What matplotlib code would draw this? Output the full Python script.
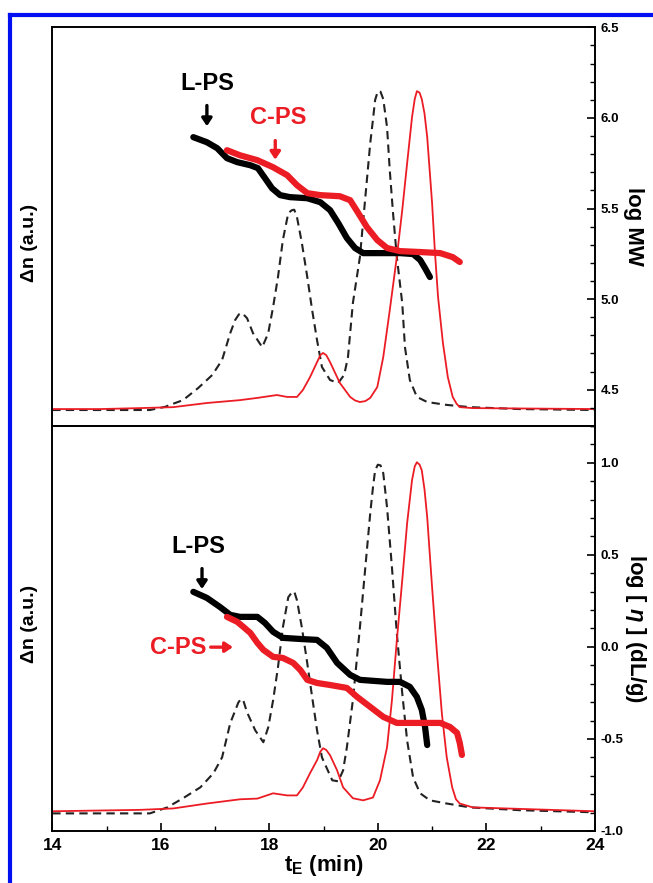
import matplotlib
matplotlib.use('Agg')
import matplotlib.pyplot as plt
from matplotlib.lines import Line2D
from matplotlib.ticker import MultipleLocator, FormatStrFormatter

plt.rcParams['font.family'] = ['Liberation Sans', 'DejaVu Sans']
plt.rcParams['font.weight'] = 'bold'
plt.rcParams['mathtext.fontset'] = 'custom'
plt.rcParams['mathtext.it'] = 'Liberation Sans:italic:bold'
plt.rcParams['mathtext.rm'] = 'Liberation Sans:bold'

# ---- data ----
# top panel: RI traces (delta n, arbitrary units)
t_ri_lps_top = [14.0, 15.8, 16.08, 16.17, 16.41, 16.69, 16.95, 17.13, 17.28, 17.37, 17.44, 17.5, 17.59,
                17.7, 17.87, 17.98, 18.07, 18.16, 18.25, 18.35, 18.42, 18.46, 18.51, 18.6, 18.7, 18.79,
                18.88, 18.97, 19.12, 19.27, 19.38, 19.45, 19.54, 19.67, 19.76, 19.86, 19.91, 19.95,
                20.0, 20.05, 20.1, 20.17, 20.22, 20.28, 20.35, 20.45, 20.5, 20.59, 20.72, 20.91, 21.27,
                21.7, 22.6, 24.0]
dn_lps_top = [0.0, 0.0, 0.01, 0.016, 0.031, 0.069, 0.11, 0.157, 0.241, 0.282, 0.3, 0.304, 0.288,
              0.241, 0.197, 0.241, 0.323, 0.417, 0.533, 0.618, 0.627, 0.628, 0.605, 0.524, 0.417, 0.313,
              0.219, 0.135, 0.094, 0.085, 0.11, 0.166, 0.335, 0.48, 0.649, 0.837, 0.91, 0.972,
              1.0, 0.998, 0.975, 0.887, 0.752, 0.618, 0.48, 0.335, 0.197, 0.094, 0.041, 0.025, 0.016,
              0.009, 0.003, 0.0]

t_ri_cps_top = [14.0, 14.88, 15.62, 16.23, 16.85, 17.46, 17.78, 18.14, 18.33, 18.51, 18.62, 18.75,
                18.88, 18.94, 18.99, 19.05, 19.12, 19.25, 19.3, 19.49, 19.58, 19.67, 19.77, 19.86, 19.99,
                20.1, 20.22, 20.35, 20.45, 20.54, 20.63, 20.68, 20.72, 20.77, 20.81, 20.86, 20.91, 21.0,
                21.05, 21.11, 21.2, 21.29, 21.38, 21.45, 21.51, 21.75, 24.0]
dn_cps_top = [0.003, 0.003, 0.006, 0.009, 0.022, 0.031, 0.038, 0.047, 0.041, 0.041, 0.063, 0.103,
              0.15, 0.172, 0.179, 0.172, 0.15, 0.103, 0.085, 0.041, 0.03, 0.025, 0.028, 0.038, 0.072,
              0.166, 0.313, 0.48, 0.627, 0.774, 0.918, 0.975, 1.0, 0.995, 0.975, 0.93, 0.856, 0.649,
              0.502, 0.354, 0.21, 0.103, 0.041, 0.02, 0.009, 0.006, 0.003]

# top panel: log MW
t_mw_lps = [16.6, 16.85, 17.04, 17.22, 17.41, 17.65, 17.79, 17.92, 18.05, 18.2, 18.38, 18.7, 18.94,
            19.12, 19.27, 19.43, 19.58, 19.73, 20.04, 20.41, 20.65, 20.78, 20.87, 20.96]
mw_lps = [5.894, 5.866, 5.833, 5.778, 5.756, 5.739, 5.723, 5.668, 5.612, 5.574, 5.563, 5.557, 5.535,
          5.491, 5.42, 5.337, 5.282, 5.254, 5.254, 5.254, 5.249, 5.216, 5.171, 5.122]

t_mw_cps = [17.22, 17.46, 17.78, 18.07, 18.33, 18.51, 18.7, 18.94, 19.3, 19.49, 19.64, 19.8, 19.99,
            20.17, 20.41, 20.78, 21.15, 21.38, 21.51]
mw_cps = [5.822, 5.794, 5.767, 5.728, 5.684, 5.629, 5.585, 5.574, 5.568, 5.546, 5.475, 5.397, 5.326,
          5.282, 5.265, 5.26, 5.254, 5.232, 5.205]

# bottom panel: RI traces
t_ri_lps_bot = [14.0, 15.8, 16.12, 16.41, 16.73, 16.97, 17.13, 17.28, 17.43, 17.48, 17.52, 17.59, 17.74,
                17.89, 17.98, 18.07, 18.16, 18.25, 18.35, 18.42, 18.46, 18.51, 18.6, 18.7, 18.79, 18.88,
                18.97, 19.16, 19.27, 19.36, 19.43, 19.54, 19.67, 19.76, 19.86, 19.91, 19.95, 20.0, 20.05,
                20.1, 20.17, 20.26, 20.35, 20.45, 20.54, 20.65, 20.78, 20.96, 21.27, 21.7, 22.62, 24.0]
dn_lps_bot = [0.0, 0.0, 0.017, 0.043, 0.074, 0.114, 0.159, 0.256, 0.315, 0.325, 0.321, 0.287, 0.236,
              0.202, 0.244, 0.321, 0.415, 0.528, 0.614, 0.628, 0.63, 0.605, 0.528, 0.426, 0.33, 0.236,
              0.159, 0.094, 0.091, 0.122, 0.188, 0.321, 0.528, 0.682, 0.852, 0.925, 0.974, 0.99, 0.988,
              0.966, 0.869, 0.699, 0.511, 0.341, 0.207, 0.102, 0.057, 0.037, 0.028, 0.017, 0.009, 0.003]

t_ri_cps_bot = [14.0, 15.62, 16.23, 16.85, 17.46, 17.78, 18.07, 18.33, 18.51, 18.62, 18.75, 18.88,
                18.94, 18.99, 19.05, 19.12, 19.25, 19.36, 19.54, 19.73, 19.91, 20.04, 20.17, 20.26, 20.35,
                20.45, 20.54, 20.63, 20.68, 20.72, 20.77, 20.81, 20.86, 20.91, 21.0, 21.09, 21.18, 21.27,
                21.37, 21.44, 21.51, 21.75, 24.0]
dn_cps_bot = [0.006, 0.01, 0.014, 0.028, 0.04, 0.042, 0.057, 0.051, 0.051, 0.074, 0.114, 0.151,
              0.175, 0.185, 0.18, 0.165, 0.122, 0.074, 0.043, 0.037, 0.045, 0.094, 0.188, 0.321, 0.491,
              0.662, 0.824, 0.946, 0.985, 0.997, 0.99, 0.974, 0.92, 0.841, 0.642, 0.455, 0.284, 0.159,
              0.074, 0.04, 0.028, 0.017, 0.006]

# bottom panel: log [eta]
t_iv_lps = [16.6, 16.85, 17.09, 17.28, 17.46, 17.78, 17.92, 18.07, 18.25, 18.57, 18.88, 19.06, 19.25,
            19.49, 19.67, 20.17, 20.41, 20.59, 20.72, 20.81, 20.87, 20.91]
iv_lps = [0.299, 0.266, 0.217, 0.174, 0.163, 0.163, 0.13, 0.082, 0.049, 0.043, 0.038, -0.005, -0.087,
          -0.152, -0.179, -0.19, -0.19, -0.217, -0.272, -0.342, -0.435, -0.533]

t_iv_cps = [17.22, 17.41, 17.52, 17.65, 17.78, 17.89, 18.07, 18.25, 18.44, 18.57, 18.7, 18.88, 19.12,
            19.43, 19.62, 19.86, 20.1, 20.35, 20.78, 21.15, 21.33, 21.46, 21.51, 21.55]
iv_cps = [0.163, 0.136, 0.109, 0.076, 0.022, -0.016, -0.054, -0.06, -0.087, -0.125, -0.179, -0.196,
          -0.207, -0.223, -0.272, -0.326, -0.38, -0.413, -0.413, -0.413, -0.435, -0.467, -0.522, -0.587]

RED = '#ec1c24'
ARROW = dict(arrowstyle='-|>,head_width=0.3,head_length=0.45', lw=2.4, shrinkA=0, shrinkB=0)

fig = plt.figure(figsize=(6.53, 8.83), dpi=100)

# blue frame of the original graphic
fig.add_artist(Line2D([0.016, 1.0], [0.983, 0.983], color='#0010f0', lw=3, transform=fig.transFigure))
fig.add_artist(Line2D([0.016, 0.016], [0.0, 0.983], color='#0010f0', lw=3, transform=fig.transFigure))

ax1 = fig.add_axes([0.080, 0.5176, 0.831, 0.4514])
ax2 = fig.add_axes([0.080, 0.0589, 0.831, 0.4587])


def style_axes(ax, rax, ylim_r, major):
    ax.set_xlim(14, 24)
    ax.set_yticks([])
    ax.set_ylabel('Δn (a.u.)', fontsize=14, fontweight='bold')
    rax.set_ylim(*ylim_r)
    rax.yaxis.set_major_locator(MultipleLocator(major))
    rax.yaxis.set_minor_locator(MultipleLocator(0.1))
    rax.yaxis.set_major_formatter(FormatStrFormatter('%.1f'))
    rax.tick_params(axis='y', which='major', direction='in', length=6, width=1.2, labelsize=9.5, pad=4)
    rax.tick_params(axis='y', which='minor', direction='in', length=3.5, width=1.0)
    for a in (ax, rax):
        for s in a.spines.values():
            s.set_linewidth(1.2)


# top panel
ax1.plot(t_ri_lps_top, dn_lps_top, color='#222222', lw=1.5, ls=(0, (4, 2.5)))
ax1.plot(t_ri_cps_top, dn_cps_top, color=RED, lw=1.3)
ax1.set_ylim(-0.05, 1.2)
r1 = ax1.twinx()
r1.plot(t_mw_lps, mw_lps, color='black', lw=4.5, solid_capstyle='round')
r1.plot(t_mw_cps, mw_cps, color=RED, lw=4.5, solid_capstyle='round')
style_axes(ax1, r1, (4.3, 6.5), 0.5)
ax1.yaxis.set_label_coords(-0.027, 0.46)
r1.set_ylabel('log MW', fontsize=16, fontweight='bold', rotation=270, labelpad=18)
ax1.tick_params(axis='x', which='both', bottom=False, labelbottom=False)

ax1.text(16.85, 1.025, 'L-PS', fontsize=17, fontweight='bold', ha='center', va='center')
ax1.annotate('', xy=(16.85, 0.89), xytext=(16.85, 0.955), arrowprops=dict(color='black', **ARROW))
ax1.text(18.16, 0.918, 'C-PS', fontsize=17, fontweight='bold', ha='center', va='center', color=RED)
ax1.annotate('', xy=(18.11, 0.785), xytext=(18.11, 0.845), arrowprops=dict(color=RED, **ARROW))

# bottom panel
ax2.plot(t_ri_lps_bot, dn_lps_bot, color='#222222', lw=1.5, ls=(0, (4, 2.5)))
ax2.plot(t_ri_cps_bot, dn_cps_bot, color=RED, lw=1.3)
ax2.set_ylim(-0.05, 1.1)
r2 = ax2.twinx()
r2.plot(t_iv_lps, iv_lps, color='black', lw=4.5, solid_capstyle='round')
r2.plot(t_iv_cps, iv_cps, color=RED, lw=4.5, solid_capstyle='round')
style_axes(ax2, r2, (-1.0, 1.2), 0.5)
ax2.yaxis.set_label_coords(-0.027, 0.51)
r2.set_ylabel(r'log [ $\eta$ ] (dL/g)', fontsize=16, fontweight='bold', rotation=270, labelpad=18)

ax2.xaxis.set_major_locator(MultipleLocator(2))
ax2.xaxis.set_minor_locator(MultipleLocator(1))
ax2.tick_params(axis='x', which='major', direction='in', length=6, width=1.2, labelsize=12.5, pad=5)
ax2.tick_params(axis='x', which='minor', direction='in', length=3.5, width=1.0)
ax2.set_xlabel(r't$_\mathregular{E}$ (min)', fontsize=16, fontweight='bold', labelpad=0)

ax2.text(16.69, 0.759, 'L-PS', fontsize=17, fontweight='bold', ha='center', va='center')
ax2.annotate('', xy=(16.76, 0.637), xytext=(16.76, 0.695), arrowprops=dict(color='black', **ARROW))
ax2.text(16.32, 0.472, 'C-PS', fontsize=17, fontweight='bold', ha='center', va='center', color=RED)
ax2.annotate('', xy=(17.33, 0.472), xytext=(16.92, 0.472), arrowprops=dict(color=RED, **ARROW))

fig.savefig('out.png', dpi=100)
